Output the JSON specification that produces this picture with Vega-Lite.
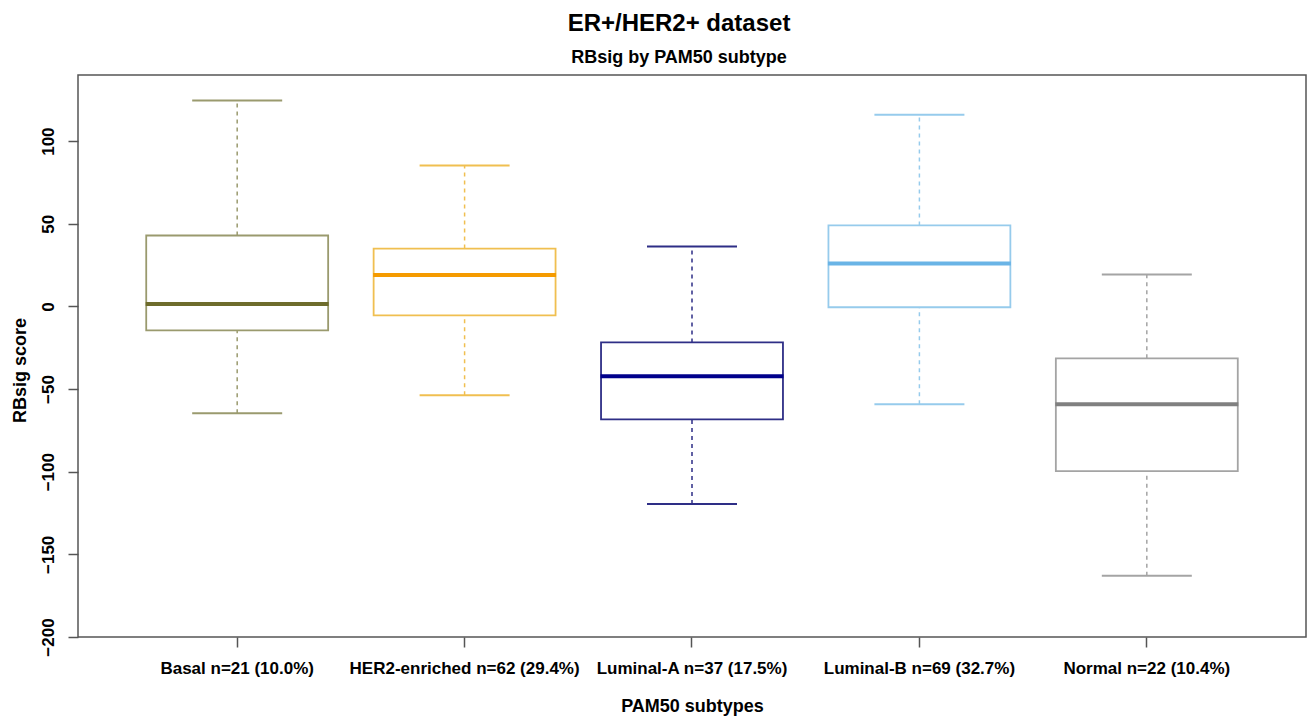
{
  "$schema": "https://vega.github.io/schema/vega-lite/v6.json",
  "width": 1228,
  "height": 562,
  "autosize": {"type": "none"},
  "padding": {"left": 78, "top": 75, "right": 6, "bottom": 81},
  "background": "white",
  "config": {
    "view": {"stroke": "#555555", "strokeWidth": 1.5},
    "font": "Liberation Sans"
  },
  "title": {
    "text": "ER+/HER2+ dataset",
    "subtitle": "RBsig by PAM50 subtype",
    "font": "Liberation Sans",
    "fontSize": 24,
    "fontWeight": "bold",
    "color": "black",
    "subtitleFont": "Liberation Sans",
    "subtitleFontSize": 18,
    "subtitleFontWeight": "bold",
    "subtitleColor": "black",
    "subtitlePadding": 13,
    "anchor": "middle",
    "offset": 8,
    "dx": -13
  },
  "data": {
    "values": [
      {"subtype": "Basal n=21 (10.0%)", "lower": -64.7, "q1": -14.5, "median": 1.5, "q3": 42.9, "upper": 124.5},
      {"subtype": "HER2-enriched n=62 (29.4%)", "lower": -53.8, "q1": -5.4, "median": 19.0, "q3": 35.0, "upper": 85.2},
      {"subtype": "Luminal-A n=37 (17.5%)", "lower": -119.6, "q1": -68.3, "median": -42.3, "q3": -21.8, "upper": 36.3},
      {"subtype": "Luminal-B n=69 (32.7%)", "lower": -59.2, "q1": -0.5, "median": 26.0, "q3": 49.0, "upper": 116.0},
      {"subtype": "Normal n=22 (10.4%)", "lower": -163.0, "q1": -99.7, "median": -59.2, "q3": -31.4, "upper": 19.3}
    ]
  },
  "encoding": {
    "x": {
      "field": "subtype",
      "type": "nominal",
      "sort": null,
      "scale": {"type": "band", "paddingInner": 0.2, "paddingOuter": 0.3},
      "axis": {
        "title": "PAM50 subtypes",
        "titleFont": "Liberation Sans",
        "titleFontSize": 18,
        "titleFontWeight": "bold",
        "titleColor": "black",
        "titlePadding": 21,
        "labelAngle": 0,
        "labelFont": "Liberation Sans",
        "labelFontSize": 17,
        "labelFontWeight": "bold",
        "labelColor": "black",
        "labelPadding": 13,
        "labelLimit": 0,
        "domain": false,
        "tickColor": "#555555",
        "tickWidth": 1.5,
        "tickSize": 10,
        "grid": false
      }
    }
  },
  "layer": [
    {
      "mark": {"type": "rule", "strokeDash": [4, 4], "strokeWidth": 1.5},
      "encoding": {
        "y": {"field": "q3", "type": "quantitative"},
        "y2": {"field": "upper"},
        "color": {"field": "subtype", "type": "nominal", "sort": null, "legend": null,
          "scale": {"domain": ["Basal n=21 (10.0%)", "HER2-enriched n=62 (29.4%)", "Luminal-A n=37 (17.5%)", "Luminal-B n=69 (32.7%)", "Normal n=22 (10.4%)"],
                    "range": ["#9a9a6e", "#f0bf50", "#2e2e86", "#96cbec", "#a4a4a4"]}}
      }
    },
    {
      "mark": {"type": "rule", "strokeDash": [4, 4], "strokeWidth": 1.5},
      "encoding": {
        "y": {"field": "lower", "type": "quantitative"},
        "y2": {"field": "q1"},
        "color": {"field": "subtype", "type": "nominal", "sort": null, "legend": null}
      }
    },
    {
      "mark": {"type": "tick", "size": 90, "thickness": 2, "opacity": 1},
      "encoding": {
        "y": {"field": "upper", "type": "quantitative"},
        "color": {"field": "subtype", "type": "nominal", "sort": null, "legend": null}
      }
    },
    {
      "mark": {"type": "tick", "size": 90, "thickness": 2, "opacity": 1},
      "encoding": {
        "y": {"field": "lower", "type": "quantitative"},
        "color": {"field": "subtype", "type": "nominal", "sort": null, "legend": null}
      }
    },
    {
      "mark": {"type": "bar", "fill": "white", "strokeWidth": 1.8},
      "encoding": {
        "y": {
          "field": "q1",
          "type": "quantitative",
          "scale": {"domain": [-200, 140], "nice": false, "zero": false},
          "axis": {
            "title": "RBsig score",
            "titleFont": "Liberation Sans",
            "titleFontSize": 18,
            "titleFontWeight": "bold",
            "titleColor": "black",
            "titlePadding": 10,
            "titleY": 295,
            "values": [-200, -150, -100, -50, 0, 50, 100],
            "labelAngle": 270,
            "labelFont": "Liberation Sans",
            "labelFontSize": 17,
            "labelFontWeight": "bold",
            "labelColor": "black",
            "labelPadding": 11,
            "domain": false,
            "tickColor": "#555555",
            "tickWidth": 1.5,
            "tickSize": 10,
            "grid": false
          }
        },
        "y2": {"field": "q3"},
        "stroke": {"field": "subtype", "type": "nominal", "sort": null, "legend": null,
          "scale": {"domain": ["Basal n=21 (10.0%)", "HER2-enriched n=62 (29.4%)", "Luminal-A n=37 (17.5%)", "Luminal-B n=69 (32.7%)", "Normal n=22 (10.4%)"],
                    "range": ["#9a9a6e", "#f0bf50", "#2e2e86", "#96cbec", "#a4a4a4"]}}
      }
    },
    {
      "mark": {"type": "tick", "size": 183, "thickness": 4, "opacity": 1},
      "encoding": {
        "y": {"field": "median", "type": "quantitative"},
        "fill": {"field": "subtype", "type": "nominal", "sort": null, "legend": null,
          "scale": {"domain": ["Basal n=21 (10.0%)", "HER2-enriched n=62 (29.4%)", "Luminal-A n=37 (17.5%)", "Luminal-B n=69 (32.7%)", "Normal n=22 (10.4%)"],
                    "range": ["#6e6c2c", "#f59b00", "#00008b", "#6ab4e6", "#808080"]}}
      }
    }
  ]
}
